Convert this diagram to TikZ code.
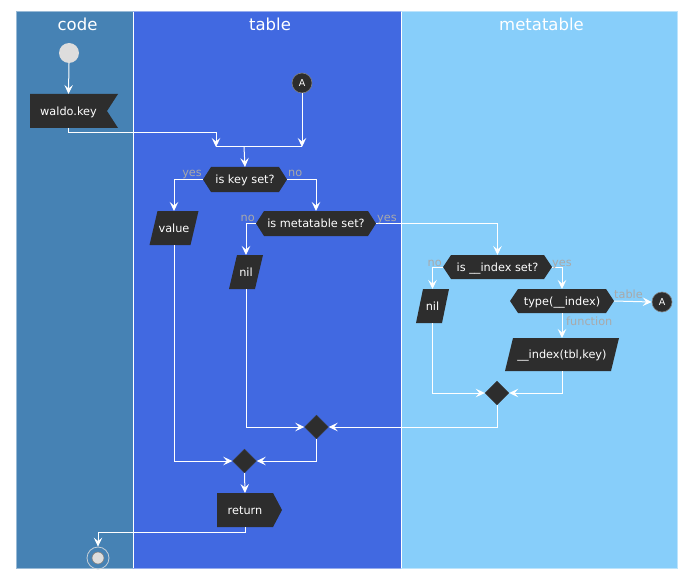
\documentclass[tikz,border=0pt]{standalone}
\usepackage{fontspec}
\setmainfont{DejaVu Sans}
\usetikzlibrary{arrows.meta,shapes.geometric,calc}
\pgfdeclarelayer{lanes}
\pgfdeclarelayer{figs}
\pgfsetlayers{lanes,figs,main}
\definecolor{codec}{HTML}{4682B4}
\definecolor{tablec}{HTML}{4169E1}
\definecolor{metac}{HTML}{87CEFA}
\definecolor{ndc}{HTML}{2D2D2D}
\definecolor{lblc}{HTML}{A9A9A9}
\definecolor{startc}{HTML}{DDDDDD}
\newcommand{\hexfig}[2]{\begin{pgfonlayer}{figs}\fill[ndc] (#1.west) -- ([xshift=#2]#1.north west) -- ([xshift=-#2]#1.north east) -- (#1.east) -- ([xshift=-#2]#1.south east) -- ([xshift=#2]#1.south west) -- cycle;\end{pgfonlayer}}
\newcommand{\parafig}[2]{\begin{pgfonlayer}{figs}\fill[ndc] ([xshift=#2]#1.north west) -- (#1.north east) -- ([xshift=-#2]#1.south east) -- (#1.south west) -- cycle;\end{pgfonlayer}}
\tikzset{
  txt/.style={font=\fontsize{11.3}{13}\selectfont, text=white, inner sep=0pt, outer sep=0pt, text height=8.5pt, text depth=0pt},
  lbl/.style={font=\fontsize{11.3}{13}\selectfont, text=lblc, inner sep=0pt, text height=8.5pt, text depth=0pt},
  ttl/.style={font=\fontsize{16.5}{20}\selectfont, text=white, inner sep=0pt, anchor=base},
  flow/.style={draw=white, line width=1pt, -{Stealth[length=9pt,width=8.5pt,inset=3.5pt]}},
  plain/.style={draw=white, line width=1pt},
  merge/.style={diamond, fill=ndc, draw=ndc!80!gray, minimum width=24pt, minimum height=24pt, inner sep=0pt},
  acirc/.style={circle, fill=ndc, draw=gray, line width=0.6pt, minimum size=20pt, inner sep=0pt, text=white, font=\fontsize{9.5}{11}\selectfont}
}
\begin{document}
\begin{tikzpicture}[x=1pt,y=-1pt]
\useasboundingbox (0,0) rectangle (695,580);
% lanes
\begin{pgfonlayer}{lanes}
\fill[codec] (16,12) rectangle (133,568);
\fill[tablec] (133,12) rectangle (401,568);
\fill[metac] (401,12) rectangle (677,568);
\draw[white!45!codec, line width=1pt] (16,12) rectangle (133,568);
\draw[white!45!tablec, line width=1pt] (133,12) -- (401,12) (133,568) -- (401,568);
\draw[white!45!metac, line width=1pt] (401,12) -- (677,12) -- (677,568) -- (401,568);
\draw[white, line width=1.2pt] (133.5,12) -- (133.5,568);
\draw[white, line width=1.2pt] (401.5,12) -- (401.5,568);
\end{pgfonlayer}
\node[ttl] (tcode) at (77.5,30.5) {code};
\node[ttl] (ttable) at (270,30.5) {table};
\node[ttl] (tmeta) at (541.5,30.5) {metatable};
% nodes
\node[circle, fill=startc, minimum size=20pt, inner sep=0pt] (start) at (69,53) {};
\node[txt, minimum width=77pt, minimum height=34pt] (waldo) at (68.5,111) {waldo.key};
\begin{pgfonlayer}{figs}
\fill[ndc] (waldo.north west) -- ([xshift=11pt]waldo.north east) -- (waldo.east) -- ([xshift=11pt]waldo.south east) -- (waldo.south west) -- cycle;
\end{pgfonlayer}
\node[acirc] (a1) at (302,83) {A};
\coordinate (barL) at (216,147);
\coordinate (barR) at (302,147);
\coordinate (barM) at (244,147);
\node[txt, minimum width=84pt, minimum height=25pt] (k) at (245,179.5) {is key set?};
\hexfig{k}{8pt}
\node[txt, minimum width=49pt, minimum height=34pt] (val) at (174,228) {value};
\parafig{val}{8pt}
\node[txt, minimum width=120pt, minimum height=25pt] (mt) at (316,223.5) {is metatable set?};
\hexfig{mt}{8pt}
\node[txt, minimum width=34pt, minimum height=34pt] (nil1) at (246,272) {nil};
\parafig{nil1}{8pt}
\node[txt, minimum width=109pt, minimum height=24pt] (ix) at (497.5,267) {is \_\_index set?};
\hexfig{ix}{8pt}
\node[txt, minimum width=33pt, minimum height=34pt] (nil2) at (432.5,306) {nil};
\parafig{nil2}{7pt}
\node[txt, minimum width=104pt, minimum height=24pt] (ty) at (562,301) {type(\_\_index)};
\hexfig{ty}{8pt}
\node[acirc] (a2) at (662,302) {A};
\node[txt, minimum width=114pt, minimum height=33pt] (fn) at (562,354.5) {\_\_index(tbl,key)};
\parafig{fn}{8pt}
\node[merge] (d1) at (497,393) {};
\node[merge] (d2) at (316.5,427) {};
\node[merge] (d3) at (244.5,461) {};
\node[txt, minimum width=56pt, minimum height=34pt] (ret) at (245,510) {return};
\begin{pgfonlayer}{figs}
\fill[ndc] (ret.north west) -- (ret.north east) -- ([xshift=9pt]ret.east) -- (ret.south east) -- (ret.south west) -- cycle;
\end{pgfonlayer}
\node[circle, draw=startc!85!codec, line width=0.8pt, minimum size=22pt, inner sep=0pt] (end) at (98,558) {};
\node[circle, fill=startc, draw=gray, line width=0.6pt, minimum size=12pt, inner sep=0pt] (endin) at (end.center) {};
% connectors
\draw[flow] (start.south) -- (waldo.north);
\draw[plain] (barL) -- (barR);
\draw[flow] (waldo.south) -- ++(0,5) -| (barL);
\draw[flow] (a1.south) -- (barR);
\draw[flow] (barM) -- (k.north);
\draw[flow] (k.west) -| (val.north);
\node[lbl, anchor=east] (lyes1) at ([xshift=-1pt,yshift=7pt]k.west) {yes};
\draw[flow] (k.east) -| (mt.north);
\node[lbl, anchor=west] (lno1) at ([xshift=1pt,yshift=7pt]k.east) {no};
\draw[flow] (mt.west) -| (nil1.north);
\node[lbl, anchor=east] (lno2) at ([xshift=-1pt,yshift=6pt]mt.west) {no};
\draw[flow] (mt.east) -| (ix.north);
\node[lbl, anchor=west] (lyes2) at ([xshift=1pt,yshift=6pt]mt.east) {yes};
\draw[flow] (ix.west) -| (nil2.north);
\node[lbl, anchor=east] (lno3) at ([xshift=-1pt,yshift=5pt]ix.west) {no};
\draw[flow] (ix.east) -| (ty.north);
\node[lbl, anchor=west] (lyes3) at ([xshift=0pt,yshift=5pt]ix.east) {yes};
\draw[flow] (ty.east) -- (a2.west);
\node[lbl, anchor=west] (ltab) at ([xshift=0pt,yshift=7pt]ty.east) {table};
\draw[flow] (ty.south) -- (fn.north);
\node[lbl, anchor=west] (lfun) at ($(ty.south)+(4,8)$) {function};
\draw[flow] (nil2.south) |- (d1.west);
\draw[flow] (fn.south) |- (d1.east);
\draw[flow] (d1.south) |- (d2.east);
\draw[flow] (nil1.south) |- (d2.west);
\draw[flow] (val.south) |- (d3.west);
\draw[flow] (d2.south) |- (d3.east);
\draw[flow] (d3.south) -- (ret.north);
\draw[flow] (ret.south) -- ++(0,5.5) -| (end.north);
\end{tikzpicture}
\end{document}
